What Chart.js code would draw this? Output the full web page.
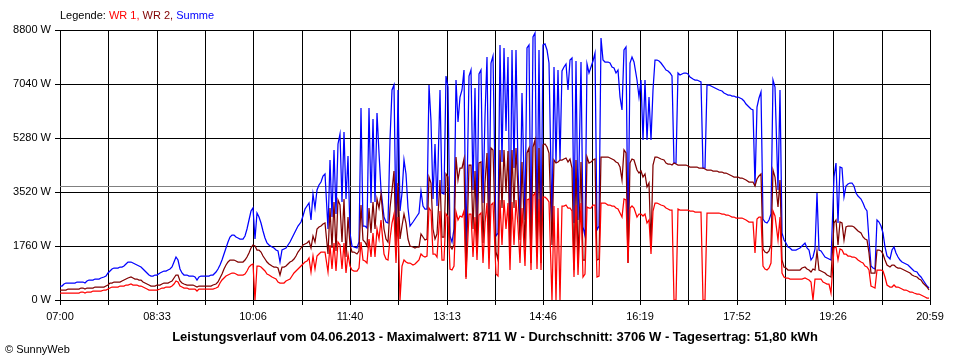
<!DOCTYPE html>
<html>
<head>
<meta charset="utf-8">
<script src="https://cdn.jsdelivr.net/npm/chart.js@4.4.1/dist/chart.umd.min.js"></script>
<style>
  body { margin: 0; background: #fff; }
  #wrap { position: relative; width: 960px; height: 360px; font-family: "Liberation Sans", Arial, sans-serif; }
  #chart { position: absolute; left: 0; top: 0; }
  .legend { position: absolute; left: 60px; top: 9px; font-size: 11px; color: #000; white-space: nowrap; }
  .title { position: absolute; left: 495px; top: 329px; transform: translateX(-50%); font-size: 13px; font-weight: bold; white-space: nowrap; }
  .copy { position: absolute; left: 5px; top: 343px; font-size: 11px; white-space: nowrap; }
</style>
</head>
<body>
<div id="wrap">
  <canvas id="chart" width="960" height="360"></canvas>
  <div class="legend">Legende: <span style="color:#ff0000">WR 1,</span> <span style="color:#800000">WR 2,</span> <span style="color:#0000ff">Summe</span></div>
  <div class="title">Leistungsverlauf vom 04.06.2013 - Maximalwert: 8711 W - Durchschnitt: 3706 W - Tagesertrag: 51,80 kWh</div>
  <div class="copy">© SunnyWeb</div>
</div>
<script>
// time axis: minutes after 07:00, one sample every 2 minutes
const step = 2;
const endMinute = 839; // 20:59
const timeLabels = ["07:00", "08:33", "10:06", "11:40", "13:13", "14:46", "16:19", "17:52", "19:26", "20:59"];
const yTicks = [0, 1760, 3520, 5280, 7040, 8800];
const average = 3706;

// WR 1 (W)
const wr1 = [
  220,220,230,230,230,230,240,240,240,240,250,250,240,260,270,270,280,290,290,290,300,310,330,350,
  400,430,440,440,440,450,450,470,480,500,510,500,490,480,460,450,420,390,360,330,310,310,320,
  340,360,380,400,420,430,430,460,520,620,600,450,420,400,380,370,370,360,350,300,360,350,350,350,
  350,360,360,370,400,440,540,650,720,790,830,860,870,870,850,830,800,800,850,960,1060,1150,1180,
  0,1100,1110,1080,1020,960,860,800,760,720,680,600,550,560,570,620,650,680,780,870,940,1020,1120,
  1180,1230,1280,1380,900,1450,1000,1450,1500,1560,1580,1560,900,1800,1000,1850,950,1900,1800,1000,1850,880,1500,
  1100,980,960,960,1050,1900,1300,1280,1200,2000,1400,2200,1400,2300,2000,2600,1500,1350,1300,2000,2500,2800,1200,2700,
  0,1100,1300,1250,1220,1200,1150,1180,1250,1300,1500,1450,1400,1420,3000,2900,1500,1500,1400,2900,1300,1300,2800,
  2700,1000,980,1100,2880,2600,2750,2700,2900,700,2800,2800,1400,2700,1300,2770,2850,1200,2500,3150,1000,3100,3150,
  850,780,3260,1800,3250,2300,3150,980,3200,1800,3250,2400,1200,3000,1100,3250,3300,980,3400,3480,1000,3300,980,
  3350,3370,3300,3200,0,3050,0,3000,0,3050,3080,3100,3000,3000,2900,760,3100,800,3150,760,850,3040,3000,3000,
  3100,3100,760,780,3150,3150,3150,3100,3100,3080,3050,3000,2950,2830,2700,3300,3250,1200,3000,3050,3000,2720,2800,
  2800,2750,2800,2500,2600,1500,2900,3150,3150,3120,3090,3050,3000,2980,2940,2930,0,0,2950,2940,2940,2930,2930,
  2930,2900,2890,2880,2880,2870,2860,0,0,2830,2830,2830,2830,2830,2830,2830,2810,2790,2780,2760,2740,2720,2710,
  2680,2670,2660,2660,2650,2600,2550,2540,2530,1520,2650,2700,2720,1100,1000,980,1050,1200,2900,2750,1960,2700,870,
  760,730,710,700,700,690,690,690,700,700,710,680,650,600,0,680,700,700,680,600,550,530,510,220,
  1700,1740,1300,1650,1630,1500,1500,1450,1420,1410,1400,1380,1300,1250,1200,1120,1080,980,450,430,400,980,980,
  980,950,760,500,430,440,500,440,410,380,360,340,320,300,270,250,230,210,190,160,130,110,80,60
];

// WR 2 (W)
const wr2 = [
  330,330,340,340,350,350,360,360,370,370,380,380,370,390,400,400,400,410,410,410,420,430,450,490,
  540,570,590,600,590,600,610,640,680,730,740,720,700,690,660,640,600,560,520,480,460,460,470,
  480,500,520,540,560,570,580,620,720,830,800,620,550,520,500,490,480,480,470,410,470,460,460,460,
  460,470,470,480,520,600,720,860,1000,1130,1230,1290,1320,1310,1280,1250,1230,1230,1290,1400,1540,1700,1780,
  1750,1620,1620,1560,1420,1340,1230,1160,1110,1080,1060,1040,820,1060,1080,1110,1170,1230,1280,1340,1450,1580,1680,
  1780,1830,1860,1920,1700,2100,1900,2300,2380,2420,2480,2520,1500,3000,1700,3200,1600,3250,3100,1900,3300,1400,2700,
  1800,1580,1560,1500,1600,3100,1950,1900,1750,3000,2200,3200,2300,3300,3000,3450,2300,2000,1900,3000,3600,4200,1800,3800,
  2000,2400,2800,2500,2000,1750,1720,1700,1720,1720,2150,2050,1950,2000,4000,3800,2300,2000,2150,3900,2060,2060,4100,
  4000,1750,1650,1800,4670,3900,4300,4300,4600,750,4400,4400,2300,4200,1700,4450,4500,1850,3800,4780,1700,4940,4900,
  1550,1300,4890,3000,4900,3500,4850,1630,4900,3000,4950,3590,1950,4500,1700,4800,4950,1200,5000,5220,1500,4950,1200,
  5050,5100,5000,4800,1800,4550,4450,4500,4550,4560,4600,4620,4500,4600,4300,980,4550,1200,4500,1300,1300,4670,4450,4500,
  4560,4600,1300,1350,4650,4650,4670,4650,4630,4600,4550,4500,4460,4350,3910,4890,4800,1200,4450,4600,4560,4240,4150,
  4200,4000,4100,3690,3800,1740,4400,4670,4670,4640,4600,4550,4460,4440,4420,4400,4450,4420,4410,4400,4400,4400,4400,
  4380,4350,4340,4320,4320,4300,4300,4300,4280,4240,4240,4230,4220,4200,4190,4180,4170,4150,4130,4100,4080,4040,4020,
  4020,4010,3990,3970,3950,3900,3850,3840,3830,3700,3950,4050,4100,1650,1550,1520,1600,1800,4240,4000,3040,3900,1300,
  1090,1030,980,980,970,970,970,980,990,1030,1090,1000,980,900,1000,980,1600,980,960,920,870,830,780,760,
  2500,2600,1800,2550,2500,1960,2390,2400,2400,2400,2380,2330,2260,2200,2060,2000,1950,1520,880,870,870,1630,1640,
  1600,1500,1300,1150,1090,1150,1150,1090,1050,1030,1000,980,960,920,870,830,780,740,700,640,570,490,410,340
];

// Summe (W)
const summe = [
  450,470,520,540,550,560,560,570,580,590,600,600,570,620,640,650,660,680,690,700,710,740,790,870,
  960,1020,1040,1050,1040,1060,1070,1110,1160,1230,1250,1210,1180,1140,1100,1060,1000,940,880,820,790,790,810,
  830,880,910,940,960,970,1000,1080,1250,1400,1300,1000,880,830,800,790,780,770,740,660,760,770,780,780,
  780,790,800,830,920,1020,1150,1300,1500,1700,1880,2050,2120,2110,2060,2020,1980,1990,2100,2300,2600,2900,3000,
  2000,2850,2700,2500,2250,2030,1870,1780,1720,1680,1640,1600,1250,1620,1650,1700,1790,1900,2030,2150,2280,2400,2550,
  2750,2950,3050,3150,2600,3450,3000,3600,3750,3850,4050,4100,2300,4550,2700,4900,2800,5100,5400,3200,5480,3300,4700,
  2200,1750,1720,1700,1900,6250,2400,2400,2350,6250,3150,5900,3200,6100,4800,3600,2700,2550,2500,5200,6850,7000,2300,6850,
  2900,3500,4550,4100,3000,2400,2550,2650,2750,2830,3550,3050,2950,2950,7000,5850,3300,5100,3050,6850,3480,3450,7300,
  6950,2100,1900,2300,7170,5800,6630,6850,7500,1550,7300,7500,3600,6900,2500,7350,7500,3150,6000,7930,2600,7720,7950,
  2100,2200,8300,4500,8200,5500,7930,1750,8150,4300,8150,4240,2500,6740,2600,8200,8310,1850,8580,8711,2200,8150,1850,
  8300,8330,8150,7720,2400,7600,4450,7500,4550,7450,7600,7700,6850,7820,7880,2500,7800,2600,7770,2390,2100,7700,7390,7600,
  7800,8040,2280,2400,8530,7820,7770,7770,7720,7610,7550,7390,7500,6630,6190,8150,8260,1950,7720,7930,7770,7170,6630,
  7170,5220,7170,5220,6630,5220,6850,7820,7820,7800,7720,7610,7500,7450,7390,7300,4450,4450,7390,7340,7380,7390,7390,
  7350,7280,7200,7170,7170,7150,7120,4300,4300,7010,7000,6980,6950,6920,6880,6850,6800,6750,6700,6680,6670,6660,6640,
  6630,6620,6580,6540,6500,6400,6280,6220,6180,3700,6300,6600,6790,2650,2550,2500,2600,2800,7170,6950,3590,6850,2170,
  1960,1850,1740,1680,1630,1620,1630,1650,1690,1750,1850,1700,1630,1300,1400,1650,3480,1630,1600,1500,1410,1380,1330,1300,
  4000,4450,2500,4350,4300,3370,3700,3780,3800,3800,3700,3480,3400,3300,3150,3000,2900,1950,1100,1050,1000,2600,2550,
  2400,2200,1740,1450,1350,1630,1740,1520,1400,1300,1250,1200,1180,1130,1090,1020,950,900,830,740,640,550,460,390
];

const toPoints = (arr) => arr.map((v, i) => ({ x: i * step, y: v }));

// grey line for the day's average
const averageLine = {
  id: "averageLine",
  beforeDatasetsDraw(chart) {
    const { ctx, chartArea, scales } = chart;
    const y = Math.round(scales.y.getPixelForValue(average)) + 0.5;
    ctx.save();
    ctx.strokeStyle = "#808080";
    ctx.lineWidth = 1;
    ctx.beginPath();
    ctx.moveTo(chartArea.left, y);
    ctx.lineTo(chartArea.right, y);
    ctx.stroke();
    ctx.restore();
  },
};

Chart.defaults.font.family = '"Liberation Sans", Arial, sans-serif';
Chart.defaults.font.size = 11;
Chart.defaults.color = "#000";

new Chart(document.getElementById("chart"), {
  type: "line",
  data: {
    datasets: [
      { label: "WR 1", data: toPoints(wr1), borderColor: "#ff0000", order: 0 },
      { label: "WR 2", data: toPoints(wr2), borderColor: "#800000", order: 1 },
      { label: "Summe", data: toPoints(summe), borderColor: "#0000ff", order: 2 },
    ],
  },
  options: {
    responsive: false,
    animation: false,
    events: [],
    layout: { padding: { top: 30, right: 30, left: 0, bottom: 0 } },
    elements: {
      point: { radius: 0 },
      line: { borderWidth: 1.25, tension: 0 },
    },
    plugins: {
      legend: { display: false },
      tooltip: { enabled: false },
    },
    scales: {
      x: {
        type: "linear",
        min: 0,
        max: endMinute,
        alignToPixels: true,
        afterFit(scale) { scale.height = 60; },
        afterBuildTicks(scale) {
          scale.ticks = Array.from({ length: 19 }, (_, k) => ({ value: (k * endMinute) / 18 }));
        },
        ticks: {
          autoSkip: false,
          maxRotation: 0,
          padding: 5,
          callback: (v, idx) => (idx % 2 === 0 ? timeLabels[idx / 2] : ""),
        },
        grid: { color: "#000", tickColor: "#000", tickLength: 5, lineWidth: 1 },
        border: { color: "#000" },
      },
      y: {
        min: 0,
        max: 8800,
        alignToPixels: true,
        afterFit(scale) { scale.width = 60; },
        afterBuildTicks(scale) {
          scale.ticks = yTicks.map((v) => ({ value: v }));
        },
        ticks: {
          padding: 4,
          callback: (v) => v + " W",
        },
        grid: { color: "#000", tickColor: "#000", tickLength: 5, lineWidth: 1 },
        border: { color: "#000" },
      },
    },
  },
  plugins: [averageLine],
});
</script>
</body>
</html>
